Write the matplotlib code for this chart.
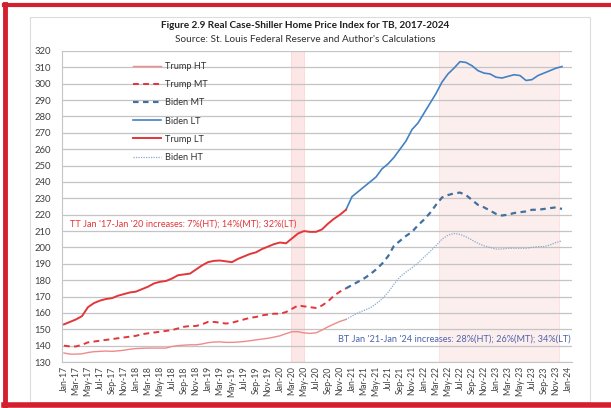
import matplotlib.pyplot as plt
import matplotlib.lines as mlines
import numpy as np
import pandas as pd

plt.rcParams['font.family'] = ['Lato', 'DejaVu Sans']

# monthly index, Jan-17 .. Jan-24
meses = pd.date_range('2017-01-01', '2024-01-01', freq='MS')
etiquetas = [m.strftime('%b-%y') for m in meses]

# Trump term: Jan-17 .. Dec-20
trump_lt = [153, 154.5, 156, 158, 163.5, 166, 167.5, 168.5, 169, 170.5, 171.5, 172.5,
            173, 174.5, 176, 178, 179, 179.5, 181, 183, 183.5, 184, 186.5, 189,
            191, 191.8, 192, 191.5, 191, 193, 194.5, 196, 197, 199, 200.5, 202,
            203, 202.5, 205.5, 208.5, 210, 209.5, 209.5, 211, 214.5, 217.5, 220, 223]
trump_mt = [140, 139.5, 139.5, 140.5, 142, 142.5, 143, 143.5, 144, 144.5, 145, 145.5,
            146, 147, 147.5, 148, 148.5, 149, 149.5, 150.5, 151.5, 152, 152, 153,
            154.5, 154.5, 154, 153.5, 154, 155, 156, 157, 157.5, 158.5, 159, 159.5,
            159.5, 160.5, 162.5, 164.5, 164, 163.5, 163, 164.5, 167, 170.5, 173, 175]
trump_ht = [135.5, 134.8, 134.8, 135, 135.8, 136.3, 136.5, 136.7, 136.5, 136.8, 137.2, 137.8,
            138.2, 138.4, 138.5, 138.5, 138.5, 138.5, 139.5, 140, 140.3, 140.5, 140.5, 141,
            141.8, 142.2, 142.3, 142, 142, 142.2, 142.5, 143, 143.5, 144, 144.5, 145.2,
            146, 147.3, 148.5, 148.5, 147.8, 147.5, 147.8, 149.5, 151.5, 153.2, 154.8, 156]

# Biden term: Dec-20 .. Dec-23
biden_lt = [223, 231, 234, 237, 240, 243, 248, 251, 255, 260, 265, 272, 276,
            282, 288, 294, 301, 306, 309.5, 313.5, 313, 311, 308, 306.5, 306,
            304, 303.5, 304.5, 305.5, 305, 302, 302.5, 305, 306.5, 308, 309.5, 310.5]
biden_mt = [175, 177, 179, 181, 183.5, 186.5, 190, 194.5, 201, 204, 207, 209.5, 213.5,
            217, 221, 226, 230.5, 232, 233, 233.5, 232, 229, 226, 224.5, 222.5,
            220.5, 219.5, 220, 221, 221.5, 222, 223, 223, 223.5, 224, 224.5, 223.5]
biden_ht = [156, 158, 160, 161.5, 163, 165.5, 168.5, 172.5, 177.5, 182, 185, 187.5, 190.5,
            194, 197.5, 201, 205, 207.5, 208.5, 208, 206.5, 204.5, 202.5, 201, 200,
            199, 199, 199.5, 199.5, 199.5, 199.5, 200, 200.5, 200.5, 201.5, 203, 204]

x_trump = np.arange(len(trump_lt))
x_biden = np.arange(len(trump_lt) - 1, len(trump_lt) - 1 + len(biden_lt))

rojo = '#e2363a'
rojo_claro = '#f08a8a'
azul = '#4282c2'
azul_osc = '#41709f'
azul_claro = '#8aa9cc'

fig = plt.figure(figsize=(6.11, 4.08), dpi=100)

# outer red frame and grey panel
fig.add_artist(mlines.Line2D([5/611, 5/611], [0, 1 - 4/408], color='#d3202e', lw=3.5, transform=fig.transFigure))
fig.add_artist(mlines.Line2D([4/611, 1], [1 - 5/408, 1 - 5/408], color='#d3202e', lw=3, transform=fig.transFigure))
fig.add_artist(mlines.Line2D([4/611, 1], [3/408, 3/408], color='#d3202e', lw=4, transform=fig.transFigure))
fig.add_artist(plt.Rectangle((30/611, 6/408), 560/611, 385/408, fill=False, ec='#dcdcdc', lw=0.8,
                             transform=fig.transFigure))

ax = fig.add_axes([62/611, 1 - 362/408, 510/611, 311/408])

ax.axvspan(37.9, 40, facecolor='#fde6e6', edgecolor='#fbd6d6', lw=0.6, zorder=0)
ax.axvspan(62.5, 82.5, facecolor='#fdeeee', edgecolor='#fbe0e0', lw=0.6, zorder=0)

ax.plot(x_trump, trump_ht, color=rojo_claro, lw=1.0, label='Trump HT', zorder=3)
ax.plot(x_trump, trump_mt, color=rojo, lw=1.4, ls=(0, (3, 2.2)), label='Trump MT', zorder=3)
ax.plot(x_biden, biden_mt, color=azul_osc, lw=1.6, ls=(0, (2.5, 2)), label='Biden MT', zorder=3)
ax.plot(x_biden, biden_lt, color=azul, lw=1.2, label='Biden LT', zorder=3)
ax.plot(x_trump, trump_lt, color=rojo, lw=1.4, label='Trump LT', zorder=3)
ax.plot(x_biden, biden_ht, color=azul_claro, lw=0.9, ls=(0, (1, 1)), label='Biden HT', zorder=3)

ax.set_ylim(130, 320)
ax.set_xlim(-0.33, 84.67)
ax.set_yticks(np.arange(130, 321, 10))
ax.set_xticks(np.arange(0, len(meses), 2))
ax.set_xticklabels(etiquetas[::2], rotation=90, fontsize=6.2, color='#404040')
ax.tick_params(axis='y', labelsize=6.8, colors='#404040', length=0, pad=8)
ax.tick_params(axis='x', length=0, pad=3)
ax.grid(axis='y', color='#c4c4c4', lw=0.9, zorder=1)
ax.set_axisbelow(True)
for s in ['top', 'right']:
    ax.spines[s].set_visible(False)
ax.spines['left'].set_color('#c4c4c4')
ax.spines['bottom'].set_color('#c4c4c4')

ax.text(1, 214.3, "TT Jan '17-Jan '20 increases: 7%(HT); 14%(MT); 32%(LT)", color=rojo,
        fontsize=6.6, va='center', ha='left')
ax.text(45.7, 144.1, "BT Jan '21-Jan '24 increases: 28%(HT); 26%(MT); 34%(LT)", color='#4a64aa',
        fontsize=6.6, va='center', ha='left')

leg = ax.legend(loc='upper left', bbox_to_anchor=(133/611, 1 - 62/408), bbox_transform=fig.transFigure,
                frameon=False, fontsize=6.6, handlelength=3.0, handletextpad=0.5,
                labelspacing=1.0, borderpad=0, borderaxespad=0)
for t in leg.get_texts():
    t.set_color('#303030')

fig.text(305/611, 1 - 25/408, 'Figure 2.9 Real Case-Shiller Home Price Index for TB, 2017-2024',
         ha='center', va='center', fontsize=7.2, fontweight='bold', color='#202020')
fig.text(305/611, 1 - 39/408, "Source: St. Louis Federal Reserve and Author's Calculations",
         ha='center', va='center', fontsize=7.2, color='#303030')

fig.savefig('out.png', dpi=100)
